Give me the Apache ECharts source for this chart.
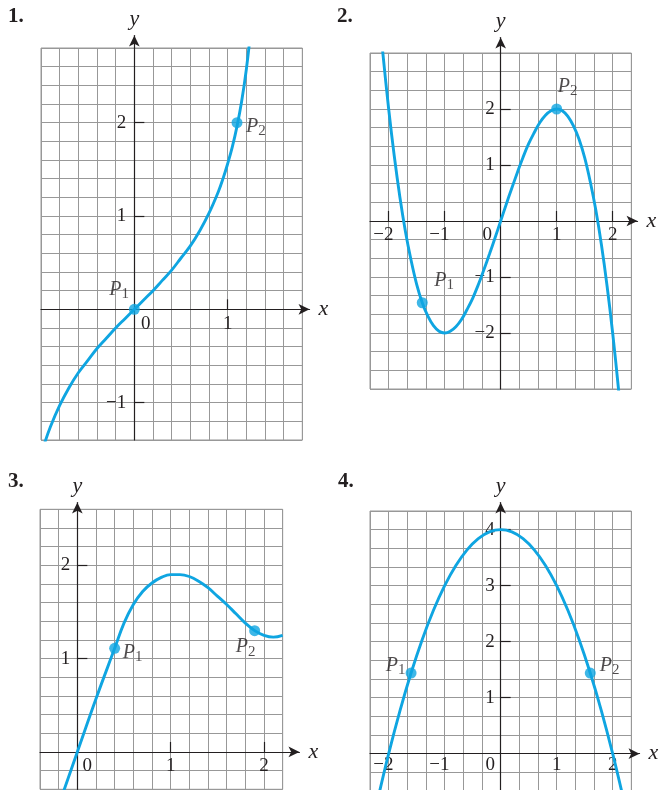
<!DOCTYPE html>
<html>
<head>
<meta charset="utf-8">
<script src="https://cdn.jsdelivr.net/npm/echarts@6/dist/echarts.min.js"></script>
<style>
html, body { margin: 0; padding: 0; background: #fff; }
#main { width: 662px; height: 790px; }
</style>
</head>
<body>
<div id="main"></div>
<script>
// ---------- data ----------
// curve points [x, y]
var curve1 = [[-0.96,-1.43],[-0.9,-1.26],[-0.8,-1.03],[-0.7,-0.84],[-0.6,-0.68],[-0.5,-0.55],[-0.4,-0.42],
  [-0.3,-0.31],[-0.2,-0.2],[-0.1,-0.1],[0,0],[0.1,0.1],[0.2,0.2],[0.3,0.31],[0.4,0.42],[0.5,0.55],
  [0.6,0.68],[0.7,0.84],[0.8,1.03],[0.9,1.26],[0.95,1.4],[1.0,1.56],[1.05,1.74],[1.1,1.96],[1.15,2.23],
  [1.2,2.57],[1.25,3.01]];
var curve2 = [[-2.15,3.49],[-2.1,2.96],[-2,2],[-1.9,1.16],[-1.8,0.43],[-1.7,-0.19],[-1.6,-0.7],[-1.5,-1.13],
  [-1.4,-1.46],[-1.3,-1.7],[-1.2,-1.87],[-1.1,-1.97],[-1,-2],[-0.9,-1.97],[-0.8,-1.89],[-0.7,-1.76],
  [-0.6,-1.58],[-0.5,-1.38],[-0.4,-1.14],[-0.3,-0.87],[-0.2,-0.59],[-0.1,-0.3],[0,0],[0.1,0.3],[0.2,0.59],
  [0.3,0.87],[0.4,1.14],[0.5,1.38],[0.6,1.58],[0.7,1.76],[0.8,1.89],[0.9,1.97],[1,2],[1.1,1.97],[1.2,1.87],
  [1.3,1.7],[1.4,1.46],[1.5,1.13],[1.6,0.7],[1.7,0.19],[1.8,-0.43],[1.9,-1.16],[2,-2],[2.1,-2.96],[2.15,-3.49]];
var curve3 = [[-0.15,-0.43],[0,0],[0.2,0.57],[0.4,1.11],[0.5,1.38],[0.6,1.58],[0.7,1.72],[0.8,1.81],
  [0.9,1.87],[1.0,1.9],[1.1,1.9],[1.2,1.88],[1.3,1.83],[1.4,1.76],[1.5,1.67],[1.6,1.58],[1.7,1.48],
  [1.8,1.38],[1.9,1.3],[2.0,1.25],[2.1,1.23],[2.2,1.25]];
var curve4 = [[-2.2,-0.84],[-2,0],[-1.8,0.76],[-1.6,1.44],[-1.4,2.04],[-1.2,2.56],[-1,3],[-0.8,3.36],
  [-0.6,3.64],[-0.4,3.84],[-0.2,3.96],[0,4],[0.2,3.96],[0.4,3.84],[0.6,3.64],[0.8,3.36],[1,3],[1.2,2.56],
  [1.4,2.04],[1.6,1.44],[1.8,0.76],[2,0],[2.2,-0.84]];

// marked points P1, P2
var points1 = [[0,0],[1.1,2]];
var points2 = [[-1.4,-1.46],[1,2]];
var points3 = [[0.4,1.11],[1.9,1.3]];
var points4 = [[-1.6,1.44],[1.6,1.44]];
var pointNames = ['1', '2'];

// tick labels
var xTicks1 = [0, 1],            yTicks1 = [2, 1, -1];
var xTicks2 = [-2, -1, 0, 1, 2], yTicks2 = [2, 1, -1, -2];
var xTicks3 = [0, 1, 2],         yTicks3 = [2, 1];
var xTicks4 = [-2, -1, 0, 1, 2], yTicks4 = [4, 3, 2, 1];

// visible graph-paper ranges and cell size
var xRange1 = [-1, 1.8],     yRange1 = [-1.4, 2.8],  cell1 = 0.2;
var xRange2 = [-7/3, 7/3],   yRange2 = [-3, 3],      cell2 = 1/3;
var xRange3 = [-0.4, 2.2],   yRange3 = [-0.4, 2.6],  cell3 = 0.2;
var xRange4 = [-7/3, 7/3],   yRange4 = [-2/3, 13/3], cell4 = 1/3;

// ---------- layout ----------
var FONT = 'Liberation Serif';
var BLUE = '#0fa5e1';
var INK = '#231f20';
var GRIDC = '#989898';

var panels = [
  { name: '1.', tl: [8, 6],   left: 41,  top: 48,    unit: 93.33, ext: [7.2, 12.5], xm: 5, xr: xRange1, yr: yRange1, cell: cell1,
    curve: curve1, pts: points1, xt: xTicks1, yt: yTicks1, ym: 8, zero: [23, 0], xTickMarks: true,
    lab: [[-25, -20], [9, 4]] },
  { name: '2.', tl: [337, 6], left: 370, top: 53,    unit: 56,    ext: [6.2, 15.5], xm: 5, xr: xRange2, yr: yRange2, cell: cell2,
    curve: curve2, pts: points2, xt: xTicks2, yt: yTicks2, ym: 6, zero: [0, 27], xTickMarks: true,
    lab: [[12, -22], [1, -22]] },
  { name: '3.', tl: [8, 471], left: 40,  top: 509.3, unit: 93.33, ext: [16.8, 6.8], xm: 5, xr: xRange3, yr: yRange3, cell: cell3,
    curve: curve3, pts: points3, xt: xTicks3, yt: yTicks3, ym: 7, zero: [20, 0], xTickMarks: true,
    lab: [[8, 4.5], [-19, 16.5]] },
  { name: '4.', tl: [338, 471], left: 370, top: 511, unit: 56,    ext: [8.2, 8.5], xm: 2, xr: xRange4, yr: yRange4, cell: cell4,
    curve: curve4, pts: points4, xt: xTicks4, yt: yTicks4, ym: 6, zero: [0, 21], xTickMarks: false,
    lab: [[-25.4, -7], [9.4, -7]] }
];

function minus(v) { return v < 0 ? '\u2212' + Math.abs(v) : String(v); }

var txt = { fontFamily: FONT, fontSize: 19, color: INK };

var option = {
  animation: false,
  backgroundColor: '#fff',
  title: [], grid: [], xAxis: [], yAxis: [], series: []
};

panels.forEach(function (p, i) {
  var w = (p.xr[1] - p.xr[0]) * p.unit;
  var h = (p.yr[1] - p.yr[0]) * p.unit;
  var a = i * 2, b = i * 2 + 1;

  option.title.push({
    text: p.name, left: p.tl[0], top: p.tl[1], padding: 0,
    textStyle: { fontFamily: FONT, fontWeight: 'bold', fontSize: 21, color: INK }
  });

  // graph paper
  option.grid.push({ left: p.left, top: p.top, width: w, height: h, show: true,
    borderColor: GRIDC, borderWidth: 1, backgroundColor: 'transparent', outerBoundsMode: 'none' });
  // axes with arrows, a bit longer than the paper
  option.grid.push({ left: p.left, top: p.top - p.ext[1], width: w + p.ext[0], height: h + p.ext[1],
    show: false, outerBoundsMode: 'none' });

  option.xAxis.push({
    gridIndex: a, type: 'value', min: p.xr[0], max: p.xr[1], interval: p.cell, z: 0,
    axisLine: { show: false }, axisTick: { show: false }, axisLabel: { show: false },
    splitLine: { show: true, lineStyle: { color: GRIDC, width: 1 } }
  });
  option.yAxis.push({
    gridIndex: a, type: 'value', min: p.yr[0], max: p.yr[1], interval: p.cell, z: 0,
    axisLine: { show: false }, axisTick: { show: false }, axisLabel: { show: false },
    splitLine: { show: true, lineStyle: { color: GRIDC, width: 1 } }
  });

  // axes drawn through the origin: shift them in from the grid edge
  option.xAxis.push({
    gridIndex: b, type: 'value', min: p.xr[0], max: p.xr[1] + p.ext[0] / p.unit, z: 1,
    position: 'bottom', offset: p.yr[0] * p.unit,
    name: 'x', nameLocation: 'end', nameGap: 9,
    nameTextStyle: { fontFamily: FONT, fontStyle: 'italic', fontSize: 22, color: INK },
    axisLine: { show: true, onZero: false, symbol: ['none', 'arrow'], symbolSize: [8, 11],
      lineStyle: { color: INK, width: 1.2 } },
    axisTick: { show: p.xTickMarks, inside: true, length: 10, customValues: p.xt.filter(function (v) { return v !== 0; }),
      lineStyle: { color: INK, width: 1.2 } },
    axisLabel: {
      show: true, customValues: p.xt, margin: p.xm,
      formatter: function (v) {
        if (v === 0) return '{z|0}';
        return v < 0 ? '{n|' + minus(v) + '}' : '{d|' + v + '}';
      },
      rich: {
        d: txt,
        n: Object.assign({ padding: [0, 10.7, 0, 0] }, txt),
        z: Object.assign({ padding: [0, p.zero[1], 0, p.zero[0]] }, txt)
      }
    },
    splitLine: { show: false }
  });
  option.yAxis.push({
    gridIndex: b, type: 'value', min: p.yr[0], max: p.yr[1] + p.ext[1] / p.unit, z: 1,
    position: 'left', offset: p.xr[0] * p.unit,
    name: 'y', nameLocation: 'end', nameGap: 5,
    nameTextStyle: { fontFamily: FONT, fontStyle: 'italic', fontSize: 22, color: INK },
    axisLine: { show: true, onZero: false, symbol: ['none', 'arrow'], symbolSize: [8, 11],
      lineStyle: { color: INK, width: 1.2 } },
    axisTick: { show: true, inside: true, length: 10, customValues: p.yt,
      lineStyle: { color: INK, width: 1.2 } },
    axisLabel: { show: true, customValues: p.yt, margin: p.ym, formatter: minus,
      fontFamily: FONT, fontSize: 19, color: INK },
    splitLine: { show: false }
  });

  // the curve
  option.series.push({
    type: 'line', xAxisIndex: a, yAxisIndex: a, data: p.curve, smooth: 0.4,
    symbol: 'none', clip: true, z: 3,
    lineStyle: { color: BLUE, width: 2.9 }
  });

  // P1, P2
  option.series.push({
    type: 'scatter', xAxisIndex: a, yAxisIndex: a, symbolSize: 11, clip: false, z: 4,
    itemStyle: { color: BLUE },
    data: p.pts.map(function (pt, k) {
      return {
        value: pt,
        label: {
          show: true, position: 'inside', align: 'left', verticalAlign: 'middle',
          offset: p.lab[k],
          formatter: '{p|P}{s|' + pointNames[k] + '}',
          rich: {
            p: { fontFamily: FONT, fontStyle: 'italic', fontSize: 20, color: INK, lineHeight: 24, verticalAlign: 'middle' },
            s: { fontFamily: FONT, fontSize: 15, color: INK, lineHeight: 14, verticalAlign: 'bottom' }
          }
        }
      };
    })
  });
});

var chart = echarts.init(document.getElementById('main'));
chart.setOption(option);
</script>
</body>
</html>
